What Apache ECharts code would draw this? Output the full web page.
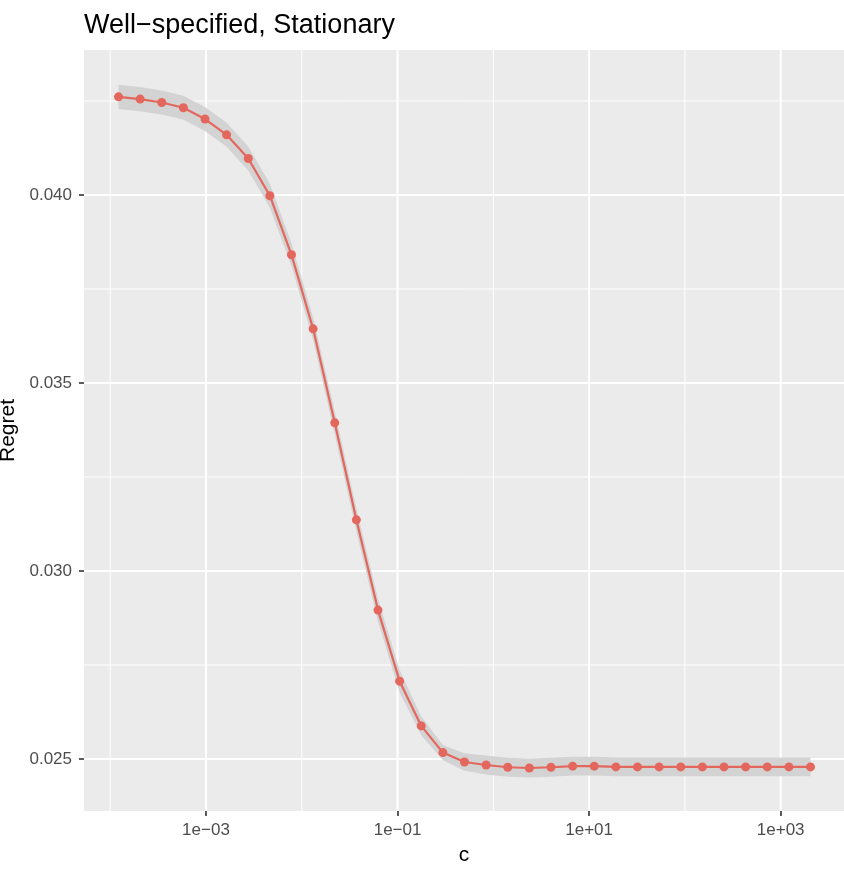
<!DOCTYPE html>
<html>
<head>
<meta charset="utf-8">
<script src="https://cdn.jsdelivr.net/npm/echarts@6/dist/echarts.min.js"></script>
<style>
  html, body { margin: 0; padding: 0; background: #ffffff; }
  #chart { width: 844px; height: 882px; }
</style>
</head>
<body>
<div id="chart"></div>
<script>
// c values (log scale)
const cValues = [0.00012207, 0.0002053, 0.00034527, 0.00058067, 0.00097656, 0.0016423, 0.0027621,
  0.0046453, 0.0078125, 0.013139, 0.022097, 0.037163, 0.0625, 0.10511, 0.17678, 0.2973, 0.5,
  0.8409, 1.4142, 2.3784, 4, 6.7272, 11.314, 19.027, 32, 53.817, 90.51, 152.22, 256, 430.54,
  724.08, 1217.7, 2048]

const regret = [0.04261, 0.04255, 0.04246, 0.04232, 0.04202, 0.0416, 0.04097, 0.03998, 0.03841,
  0.03644, 0.03394, 0.03136, 0.02896, 0.02707, 0.02588, 0.02517, 0.02492, 0.02484, 0.02478,
  0.02476, 0.02478, 0.02481, 0.02481, 0.02479, 0.02479, 0.02479, 0.02479, 0.02479, 0.02479,
  0.02479, 0.02479, 0.02479, 0.02479]

const regretLower = [0.04229, 0.04223, 0.04214, 0.042, 0.0417, 0.04128, 0.04065, 0.03966, 0.03811,
  0.03614, 0.03364, 0.03106, 0.02866, 0.02677, 0.02563, 0.02497, 0.02469, 0.02459, 0.02453,
  0.02451, 0.02453, 0.02456, 0.02456, 0.02454, 0.02454, 0.02454, 0.02454, 0.02454, 0.02454,
  0.02454, 0.02454, 0.02454, 0.02454]

const regretUpper = [0.04293, 0.04287, 0.04278, 0.04264, 0.04234, 0.04192, 0.04129, 0.0403, 0.03871,
  0.03674, 0.03424, 0.03166, 0.02926, 0.02737, 0.02613, 0.02537, 0.02515, 0.02509, 0.02503,
  0.02501, 0.02503, 0.02506, 0.02506, 0.02504, 0.02504, 0.02504, 0.02504, 0.02504, 0.02504,
  0.02504, 0.02504, 0.02504, 0.02504]

// axis breaks
const xMajor = [1e-3, 1e-1, 1e1, 1e3]
const xMinor = [1e-4, 1e-2, 1, 1e2]
const yMajor = [0.025, 0.03, 0.035, 0.04]
const yMinor = [0.0275, 0.0325, 0.0375, 0.0425]

const FONT = '"Liberation Sans", Arial, Helvetica, sans-serif'
const RED = '#e3675d'

function formatSci(value) {
  const exp = Math.round(Math.log10(value))
  const sign = exp < 0 ? '\u2212' : '+'
  return '1e' + sign + String(Math.abs(exp)).padStart(2, '0')
}

// white panel grid, drawn once through the axes
function renderGrid(params, api) {
  if (params.dataIndex !== 0) return null
  const rect = params.coordSys
  const children = []
  const vline = (v, w) => {
    const x = api.coord([v, yMajor[0]])[0]
    children.push({
      type: 'line',
      shape: { x1: x, y1: rect.y, x2: x, y2: rect.y + rect.height },
      style: { stroke: '#ffffff', lineWidth: w }
    })
  }
  const hline = (v, w) => {
    const y = api.coord([xMajor[0], v])[1]
    children.push({
      type: 'line',
      shape: { x1: rect.x, y1: y, x2: rect.x + rect.width, y2: y },
      style: { stroke: '#ffffff', lineWidth: w }
    })
  }
  xMinor.forEach((v) => vline(v, 1))
  yMinor.forEach((v) => hline(v, 1))
  xMajor.forEach((v) => vline(v, 2))
  yMajor.forEach((v) => hline(v, 2))
  return { type: 'group', children }
}

// ribbon between lower and upper
function renderBand(params, api) {
  if (params.dataIndex !== 0) return null
  const top = cValues.map((c, i) => api.coord([c, regretUpper[i]]))
  const bottom = cValues.map((c, i) => api.coord([c, regretLower[i]])).reverse()
  return {
    type: 'polygon',
    shape: { points: top.concat(bottom) },
    style: { fill: '#d3d3d3' }
  }
}

const chart = echarts.init(document.getElementById('chart'))

chart.setOption({
  animation: false,
  backgroundColor: '#ffffff',
  title: {
    text: 'Well\u2212specified, Stationary',
    left: 84,
    top: 12,
    padding: 0,
    textStyle: { fontFamily: FONT, fontSize: 27, fontWeight: 'normal', color: '#000000' }
  },
  grid: {
    left: 84,
    right: 0,
    top: 50,
    bottom: 71,
    containLabel: false,
    outerBoundsMode: 'none',
    show: true,
    backgroundColor: '#ebebeb',
    borderWidth: 0
  },
  xAxis: {
    type: 'log',
    logBase: 10,
    min: Math.pow(10, -4.2735),
    max: Math.pow(10, 3.661),
    name: 'c',
    nameLocation: 'middle',
    nameGap: 34,
    nameTextStyle: { fontFamily: FONT, fontSize: 21, color: '#000000' },
    axisLine: { show: false },
    axisTick: { show: true, length: 5, customValues: xMajor, lineStyle: { color: '#333333', width: 1.6 } },
    axisLabel: {
      customValues: xMajor,
      margin: 11,
      fontFamily: FONT,
      fontSize: 17,
      color: '#4d4d4d',
      formatter: (value) => formatSci(value)
    },
    splitLine: { show: false },
    minorSplitLine: { show: false }
  },
  yAxis: {
    type: 'value',
    min: 0.023617,
    max: 0.043856,
    name: 'Regret',
    nameLocation: 'middle',
    nameRotate: 90,
    nameGap: 60,
    nameTextStyle: { fontFamily: FONT, fontSize: 21, color: '#000000' },
    axisLine: { show: false },
    axisTick: { show: true, length: 5, customValues: yMajor, lineStyle: { color: '#333333', width: 1.6 } },
    axisLabel: {
      customValues: yMajor,
      margin: 12,
      fontFamily: FONT,
      fontSize: 17,
      color: '#4d4d4d',
      formatter: (value) => value.toFixed(3)
    },
    splitLine: { show: false }
  },
  series: [
    {
      name: 'grid',
      type: 'custom',
      z: 1,
      silent: true,
      renderItem: renderGrid,
      data: [[xMajor[0], yMajor[0]]]
    },
    {
      name: 'band',
      type: 'custom',
      z: 2,
      silent: true,
      renderItem: renderBand,
      encode: { x: 0, y: [1, 2] },
      data: cValues.map((c, i) => [c, regretLower[i], regretUpper[i]])
    },
    {
      name: 'Regret',
      type: 'line',
      z: 3,
      symbol: 'circle',
      symbolSize: 9,
      showSymbol: true,
      itemStyle: { color: RED },
      lineStyle: { color: RED, width: 2.2 },
      data: cValues.map((c, i) => [c, regret[i]])
    }
  ]
})
</script>
</body>
</html>
